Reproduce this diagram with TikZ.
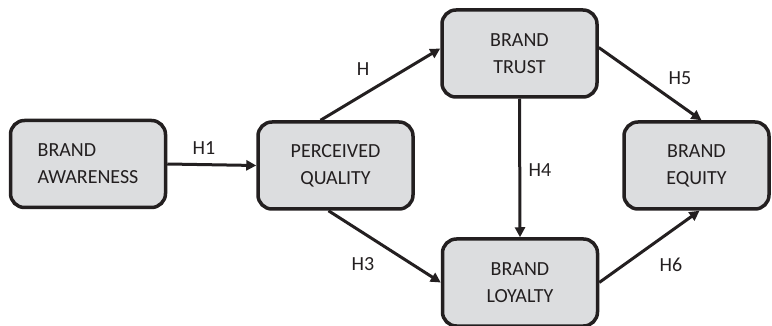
\documentclass[tikz,border=0pt]{standalone}
\usepackage{fontspec}
\setmainfont{Carlito}
\usetikzlibrary{arrows.meta,calc}
\definecolor{boxfill}{HTML}{DCDDDF}
\definecolor{ink}{HTML}{231F20}
\begin{document}
\begin{tikzpicture}[x=1pt,y=1pt,
  box/.style={draw=ink,fill=boxfill,line width=3.5pt,rounded corners=14pt,
    minimum width=155pt,minimum height=87pt,inner sep=0pt,align=center,
    text=ink,font=\fontsize{20}{27}\selectfont},
  conn/.style={draw=ink,line width=3pt,-{Triangle[length=10pt,width=10pt]}},
  lbl/.style={text=ink,font=\fontsize{20}{24}\selectfont,inner sep=0pt}]
\useasboundingbox (0,0) rectangle (772,-326);
\node[box,align=left] (aw) at (88,-164) {BRAND\\AWARENESS};
\node[box] (q) at (335.5,-165.5) {PERCEIVED\\QUALITY};
\node[box] (t) at (519.5,-53.5) {BRAND\\TRUST};
\node[box] (l) at (520,-282.5) {BRAND\\LOYALTY};
\node[box,minimum width=145pt] (e) at (696.5,-165.5) {BRAND\\EQUITY};
\draw[conn] (aw.east) -- (q.west);
\draw[conn] ([xshift=-15pt]q.north) -- ([yshift=5pt]t.west);
\draw[conn] ([xshift=-7pt]q.south) -- (l.west);
\draw[conn] (t.south) -- (l.north);
\draw[conn] ([yshift=6pt]t.east) -- ([xshift=5pt]e.north);
\draw[conn] (l.east) -- ([xshift=3pt]e.south);
\node[lbl] (h1) at (204,-148) {H1};
\node[lbl] (h2) at (363,-69) {H};
\node[lbl] (h3) at (363,-264) {H3};
\node[lbl] (h4) at (540,-170) {H4};
\node[lbl] (h5) at (680,-78) {H5};
\node[lbl] (h6) at (671,-265) {H6};
\end{tikzpicture}
\end{document}
